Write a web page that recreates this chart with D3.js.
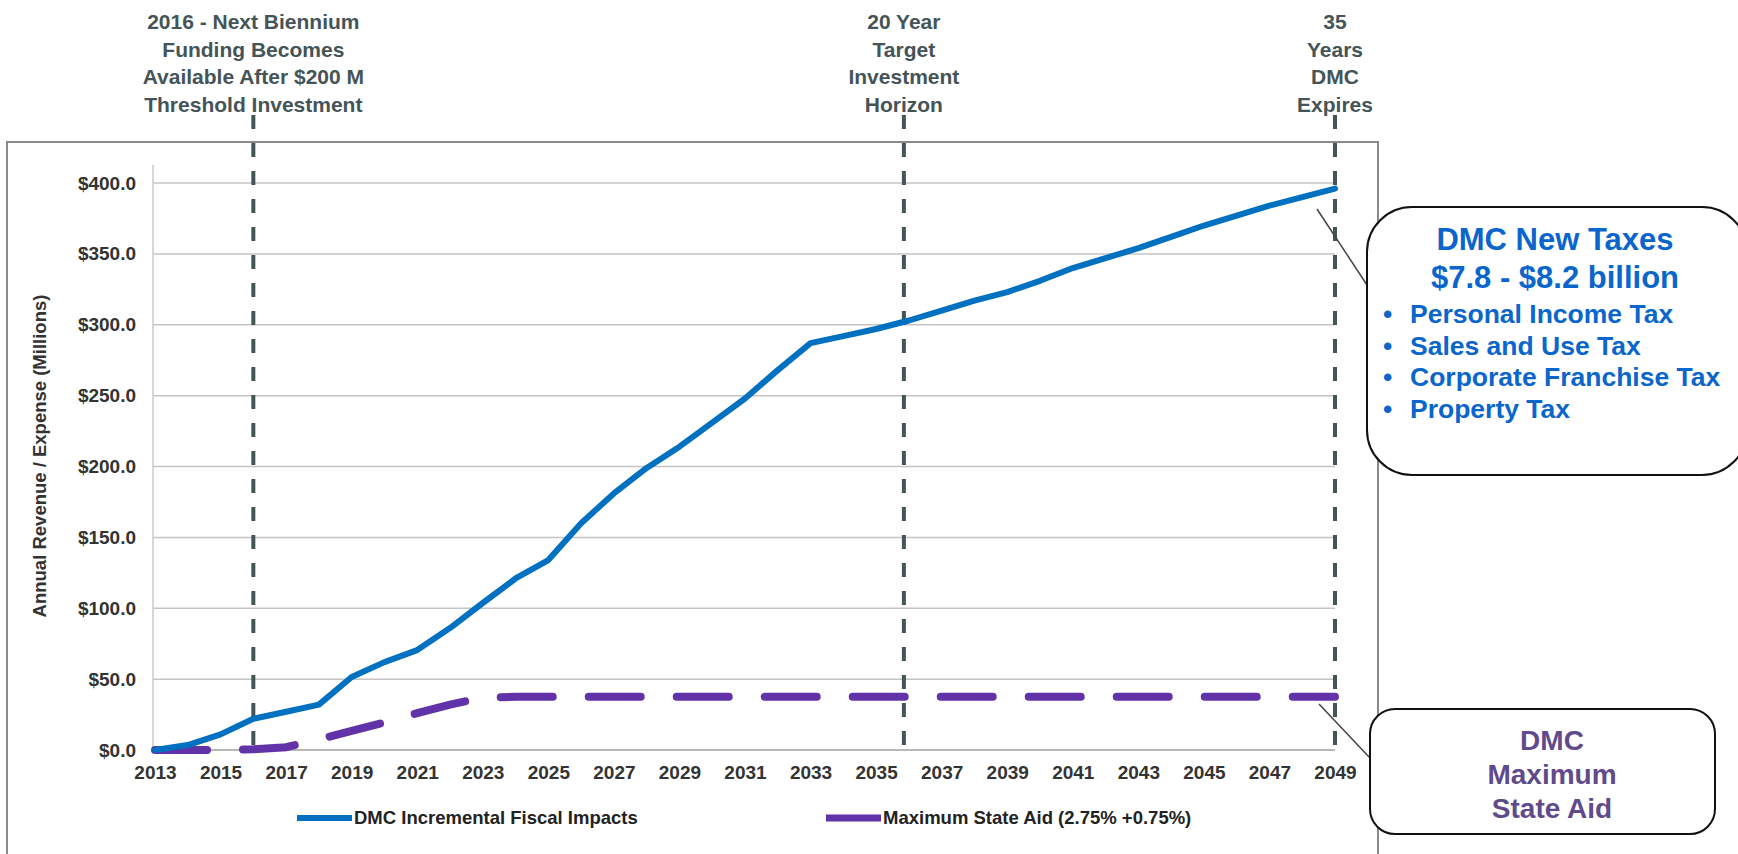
<!DOCTYPE html>
<html lang="en">
<head>
<meta charset="UTF-8">
<title>DMC Fiscal Impacts</title>
<script src="https://cdn.jsdelivr.net/npm/d3@7"></script>
<style>
    body { margin: 0; background: #fff; }
    #chart { width: 1738px; height: 854px; }
    text { font-family: "Liberation Sans", Arial, sans-serif; }
</style>
</head>
<body>
<div id="chart"></div>
<script>
// categories
var years = [2013, 2014, 2015, 2016, 2017, 2018, 2019, 2020, 2021, 2022, 2023, 2024, 2025,
    2026, 2027, 2028, 2029, 2030, 2031, 2032, 2033, 2034, 2035, 2036, 2037, 2038, 2039,
    2040, 2041, 2042, 2043, 2044, 2045, 2046, 2047, 2048, 2049];
var xTickLabels = [2013, 2015, 2017, 2019, 2021, 2023, 2025, 2027, 2029, 2031, 2033, 2035,
    2037, 2039, 2041, 2043, 2045, 2047, 2049];
var yTicks = [0, 50, 100, 150, 200, 250, 300, 350, 400];

// series ($ millions)
var dmcImpacts = [0, 3.5, 11, 22, 27, 32, 51.5, 62, 70.5, 86, 103.7, 121, 134,
    160, 181, 199, 214, 231, 248, 268, 287, 292, 297, 303, 310, 317, 323,
    331, 340, 347, 354, 362, 370, 377, 384, 390, 396];
var stateAid = [0, 0, 0, 0.5, 2, 7.5, 13.5, 19.5, 26, 32, 37, 37.5, 37.5,
    37.5, 37.5, 37.5, 37.5, 37.5, 37.5, 37.5, 37.5, 37.5, 37.5, 37.5, 37.5, 37.5, 37.5,
    37.5, 37.5, 37.5, 37.5, 37.5, 37.5, 37.5, 37.5, 37.5, 37.5];
var seriesNames = ["DMC Incremental Fiscal Impacts", "Maximum State Aid (2.75% +0.75%)"];

// milestone markers
var markerYears = [2016, 2036, 2049];
var markerLabels = [
    ["2016 - Next Biennium", "Funding Becomes", "Available After $200 M", "Threshold Investment"],
    ["20 Year", "Target", "Investment", "Horizon"],
    ["35", "Years", "DMC", "Expires"]
];

// callouts
var taxTitle = ["DMC New Taxes", "$7.8 - $8.2 billion"];
var taxItems = ["Personal Income Tax", "Sales and Use Tax", "Corporate Franchise Tax", "Property Tax"];
var aidTitle = ["DMC", "Maximum", "State Aid"];

var blue = "#0070c0", purple = "#6232a8", slate = "#455457";

var svg = d3.select("#chart").append("svg")
    .attr("width", 1738).attr("height", 854);

var x = d3.scaleLinear().domain([2013, 2049]).range([155, 1335]);
var y = d3.scaleLinear().domain([0, 400]).range([750, 183]);

// chart frame
svg.append("rect")
    .attr("x", 7).attr("y", 142).attr("width", 1371).attr("height", 730)
    .attr("fill", "#fff").attr("stroke", "#8a8a8a").attr("stroke-width", 2);

// gridlines
svg.append("g").selectAll("line").data(yTicks).enter().append("line")
    .attr("x1", 153).attr("x2", x(2049))
    .attr("y1", function (d) { return y(d); })
    .attr("y2", function (d) { return y(d); })
    .attr("stroke", function (d) { return d == 0 ? "#a0a0a0" : "#c4c4c4"; })
    .attr("stroke-width", 1.5);

svg.append("line")
    .attr("x1", 153).attr("x2", 153).attr("y1", 165).attr("y2", 750)
    .attr("stroke", "#c8c8c8").attr("stroke-width", 1.5);

// y axis
var yAxis = d3.axisLeft(y).tickValues(yTicks).tickSize(0).tickPadding(17)
    .tickFormat(function (d) { return "$" + d3.format(".1f")(d); });
svg.append("g").attr("transform", "translate(153,0)").call(yAxis)
    .call(function (g) { g.select(".domain").remove(); })
    .selectAll("text")
    .style("font-size", "19px").style("font-weight", "bold").attr("fill", "#333");

// x axis
var xAxis = d3.axisBottom(x).tickValues(xTickLabels).tickSize(0).tickPadding(16)
    .tickFormat(d3.format("d"));
svg.append("g").attr("transform", "translate(0,750)").call(xAxis)
    .call(function (g) { g.select(".domain").remove(); })
    .selectAll("text")
    .style("font-size", "19px").style("font-weight", "bold").attr("fill", "#333");

svg.append("text")
    .attr("transform", "translate(46,456) rotate(-90)")
    .attr("text-anchor", "middle")
    .style("font-size", "18.5px").style("font-weight", "bold").attr("fill", "#333")
    .text("Annual Revenue / Expense (Millions)");

// series lines
var line = d3.line()
    .x(function (d) { return x(d.year); })
    .y(function (d) { return y(d.v); });

var aidData = years.map(function (yr, i) { return { year: yr, v: stateAid[i] }; });
var dmcData = years.map(function (yr, i) { return { year: yr, v: dmcImpacts[i] }; });

svg.append("path").datum(aidData)
    .attr("d", line).attr("fill", "none")
    .attr("stroke", purple).attr("stroke-width", 8)
    .attr("stroke-linecap", "round").attr("stroke-dasharray", "52,36");

// milestone dashed lines
svg.append("g").selectAll("line").data(markerYears).enter().append("line")
    .attr("x1", function (d) { return d == 2036 ? x(d) - 5 : x(d); })
    .attr("x2", function (d) { return d == 2036 ? x(d) - 5 : x(d); })
    .attr("y1", 115).attr("y2", 750)
    .attr("stroke", slate).attr("stroke-width", 4)
    .attr("stroke-dasharray", "14,14");

svg.append("path").datum(dmcData)
    .attr("d", line).attr("fill", "none")
    .attr("stroke", blue).attr("stroke-width", 6)
    .attr("stroke-linejoin", "round").attr("stroke-linecap", "round");

// milestone labels
markerYears.forEach(function (yr, i) {
    var cx = yr == 2036 ? x(yr) - 5 : x(yr);
    var t = svg.append("text")
        .attr("text-anchor", "middle")
        .style("font-size", "21px").style("font-weight", "bold").attr("fill", slate);
    markerLabels[i].forEach(function (s, j) {
        t.append("tspan").attr("x", cx).attr("y", 29 + j * 27.7).text(s);
    });
});

// legend
var legendX = [297, 826];
var legendColors = [blue, purple];
seriesNames.forEach(function (name, i) {
    svg.append("line")
        .attr("x1", legendX[i]).attr("x2", legendX[i] + 55)
        .attr("y1", 818).attr("y2", 818)
        .attr("stroke", legendColors[i]).attr("stroke-width", i == 0 ? 6 : 7);
    svg.append("text")
        .attr("x", legendX[i] + 57).attr("y", 824)
        .style("font-size", "18.5px").style("font-weight", "bold").attr("fill", "#222")
        .text(name);
});

// callout: taxes
svg.append("line")
    .attr("x1", 1317).attr("y1", 209).attr("x2", 1367).attr("y2", 285)
    .attr("stroke", "#444").attr("stroke-width", 1.5);
svg.append("rect")
    .attr("x", 1367).attr("y", 207).attr("width", 380).attr("height", 268)
    .attr("rx", 45).attr("fill", "#fff").attr("stroke", "#111").attr("stroke-width", 2);
taxTitle.forEach(function (s, j) {
    svg.append("text")
        .attr("x", 1555).attr("y", 250 + j * 38)
        .attr("text-anchor", "middle")
        .style("font-size", "31px").style("font-weight", "bold").attr("fill", "#0a66cc")
        .text(s);
});
taxItems.forEach(function (s, j) {
    svg.append("text")
        .attr("x", 1383).attr("y", 323 + j * 31.7)
        .style("font-size", "26.5px").style("font-weight", "bold").attr("fill", "#0a66cc")
        .text("\u2022");
    svg.append("text")
        .attr("x", 1410).attr("y", 323 + j * 31.7)
        .style("font-size", "26.5px").style("font-weight", "bold").attr("fill", "#0a66cc")
        .text(s);
});

// callout: state aid
svg.append("line")
    .attr("x1", 1319).attr("y1", 704).attr("x2", 1370).attr("y2", 758)
    .attr("stroke", "#444").attr("stroke-width", 1.5);
svg.append("rect")
    .attr("x", 1370).attr("y", 709).attr("width", 345).attr("height", 125)
    .attr("rx", 25).attr("fill", "#fff").attr("stroke", "#111").attr("stroke-width", 2);
aidTitle.forEach(function (s, j) {
    svg.append("text")
        .attr("x", 1552).attr("y", 750 + j * 34)
        .attr("text-anchor", "middle")
        .style("font-size", "28px").style("font-weight", "bold").attr("fill", "#5f4a8b")
        .text(s);
});
</script>
</body>
</html>
